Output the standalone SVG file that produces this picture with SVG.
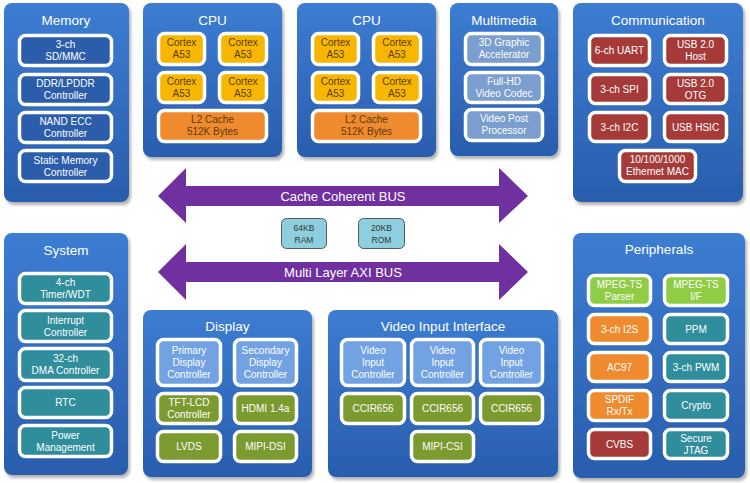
<svg xmlns="http://www.w3.org/2000/svg" width="750" height="483" viewBox="0 0 750 483">
<defs>
<linearGradient id="pg" x1="0" y1="0" x2="0" y2="1">
<stop offset="0" stop-color="#3c7dd2"/>
<stop offset="1" stop-color="#2a5dae"/>
</linearGradient>
<filter id="sh" x="-10%" y="-10%" width="125%" height="125%">
<feDropShadow dx="2" dy="3" stdDeviation="1.5" flood-color="#000" flood-opacity="0.3"/>
</filter>
</defs>
<style>
.panel{fill:url(#pg);filter:url(#sh)}
.b{stroke:#fff;stroke-width:3.5}
.mem{fill:#2c5dab}
.sys{fill:#2f8d9c}
.cor{fill:#f7b700}
.l2{fill:#f08a2e}
.mm{fill:#7a9ecd}
.red{fill:#a53a39}
.lb{fill:#72a2e2}
.grn{fill:#7b9a2f}
.lg{fill:#8fcd45}
.org{fill:#f08a2e}
.tl{fill:#2f8d9c}
text{font-family:"Liberation Sans",Arial,sans-serif;text-anchor:middle}
.t{font-size:13.5px;fill:#fff}
.x{font-size:10px;fill:#fff}
.xd{font-size:10px;fill:#5a3c08}
.bus{fill:#7030a0}
.bt{font-size:13px;fill:#fff}
.rr{fill:#8ecfdf;stroke:#505a60;stroke-width:1}
.rt{font-size:8.5px;fill:#333}
</style>

<g id="connectors">
<polygon class="bus" points="158,196 186,168 186,186 499,186 499,168 528,196 499,223 499,206 186,206 186,223"/>
<text class="bt" x="343" y="200.5">Cache Coherent BUS</text>
<polygon class="bus" points="158,272 186,244 186,262 499,262 499,244 528,272 499,300 499,282 186,282 186,300"/>
<text class="bt" x="343" y="276.5">Multi Layer AXI BUS</text>
</g>

<g id="ram">
<rect class="rr" x="281.5" y="218.5" width="45" height="30" rx="5"/>
<text class="rt" x="304" y="231">64KB</text>
<text class="rt" x="304" y="243">RAM</text>
</g>
<g id="rom">
<rect class="rr" x="358.5" y="218.5" width="46" height="30" rx="5"/>
<text class="rt" x="381.5" y="231">20KB</text>
<text class="rt" x="381.5" y="243">ROM</text>
</g>

<g id="memory">
<rect class="panel" x="4" y="3" width="125" height="199" rx="8"/>
<text class="t" x="66" y="24.5">Memory</text>
<rect class="b mem" x="19.5" y="35.5" width="92" height="30" rx="6"/>
<text class="x" x="65.5" y="48">3-ch</text><text class="x" x="65.5" y="60">SD/MMC</text>
<rect class="b mem" x="19.5" y="74.5" width="92" height="30" rx="6"/>
<text class="x" x="65.5" y="87">DDR/LPDDR</text><text class="x" x="65.5" y="99">Controller</text>
<rect class="b mem" x="19.5" y="112.5" width="92" height="30" rx="6"/>
<text class="x" x="65.5" y="125">NAND ECC</text><text class="x" x="65.5" y="137">Controller</text>
<rect class="b mem" x="19.5" y="150.5" width="92" height="31" rx="6"/>
<text class="x" x="65.5" y="163.5">Static Memory</text><text class="x" x="65.5" y="175.5">Controller</text>
</g>

<g id="cpu1">
<rect class="panel" x="143" y="3" width="139" height="154" rx="8"/>
<text class="t" x="212.5" y="24.5">CPU</text>
<rect class="b cor" x="158.5" y="33.5" width="46" height="31" rx="6"/>
<text class="xd" x="181.5" y="46">Cortex</text><text class="xd" x="181.5" y="58">A53</text>
<rect class="b cor" x="219.5" y="33.5" width="47" height="31" rx="6"/>
<text class="xd" x="243" y="46">Cortex</text><text class="xd" x="243" y="58">A53</text>
<rect class="b cor" x="158.5" y="72.5" width="46" height="30" rx="6"/>
<text class="xd" x="181.5" y="85">Cortex</text><text class="xd" x="181.5" y="97">A53</text>
<rect class="b cor" x="219.5" y="72.5" width="47" height="30" rx="6"/>
<text class="xd" x="243" y="85">Cortex</text><text class="xd" x="243" y="97">A53</text>
<rect class="b l2" x="158.5" y="110.5" width="108" height="31" rx="6"/>
<text class="xd" x="212.5" y="123">L2 Cache</text><text class="xd" x="212.5" y="135">512K Bytes</text>
</g>

<g id="cpu2">
<rect class="panel" x="297" y="3" width="139" height="154" rx="8"/>
<text class="t" x="366.5" y="24.5">CPU</text>
<rect class="b cor" x="312.5" y="33.5" width="46" height="31" rx="6"/>
<text class="xd" x="335.5" y="46">Cortex</text><text class="xd" x="335.5" y="58">A53</text>
<rect class="b cor" x="373.5" y="33.5" width="47" height="31" rx="6"/>
<text class="xd" x="397" y="46">Cortex</text><text class="xd" x="397" y="58">A53</text>
<rect class="b cor" x="312.5" y="72.5" width="46" height="30" rx="6"/>
<text class="xd" x="335.5" y="85">Cortex</text><text class="xd" x="335.5" y="97">A53</text>
<rect class="b cor" x="373.5" y="72.5" width="47" height="30" rx="6"/>
<text class="xd" x="397" y="85">Cortex</text><text class="xd" x="397" y="97">A53</text>
<rect class="b l2" x="312.5" y="110.5" width="108" height="31" rx="6"/>
<text class="xd" x="366.5" y="123">L2 Cache</text><text class="xd" x="366.5" y="135">512K Bytes</text>
</g>

<g id="multimedia">
<rect class="panel" x="450" y="3" width="108" height="153" rx="8"/>
<text class="t" x="504" y="24.5">Multimedia</text>
<rect class="b mm" x="465.5" y="33.5" width="77" height="31" rx="6"/>
<text class="x" x="504" y="46">3D Graphic</text><text class="x" x="504" y="58">Accelerator</text>
<rect class="b mm" x="465.5" y="72.5" width="77" height="30" rx="6"/>
<text class="x" x="504" y="85">Full-HD</text><text class="x" x="504" y="97">Video Codec</text>
<rect class="b mm" x="465.5" y="109.5" width="77" height="31" rx="6"/>
<text class="x" x="504" y="122">Video Post</text><text class="x" x="504" y="134">Processor</text>
</g>

<g id="communication">
<rect class="panel" x="573" y="3" width="170" height="199" rx="8"/>
<text class="t" x="658" y="24.5">Communication</text>
<rect class="b red" x="589.5" y="35.5" width="60" height="30" rx="6"/>
<text class="x" x="619.5" y="54">6-ch UART</text>
<rect class="b red" x="664.5" y="35.5" width="62" height="30" rx="6"/>
<text class="x" x="695.5" y="48">USB 2.0</text><text class="x" x="695.5" y="60">Host</text>
<rect class="b red" x="589.5" y="74.5" width="60" height="29" rx="6"/>
<text class="x" x="619.5" y="92.5">3-ch SPI</text>
<rect class="b red" x="664.5" y="74.5" width="62" height="29" rx="6"/>
<text class="x" x="695.5" y="86.5">USB 2.0</text><text class="x" x="695.5" y="98.5">OTG</text>
<rect class="b red" x="589.5" y="112.5" width="60" height="29" rx="6"/>
<text class="x" x="619.5" y="130.5">3-ch I2C</text>
<rect class="b red" x="664.5" y="112.5" width="62" height="29" rx="6"/>
<text class="x" x="695.5" y="130.5">USB HSIC</text>
<rect class="b red" x="619.5" y="150.5" width="76" height="31" rx="6"/>
<text class="x" x="657.5" y="163">10/100/1000</text><text class="x" x="657.5" y="175">Ethernet MAC</text>
</g>

<g id="system">
<rect class="panel" x="4" y="233" width="124" height="242" rx="8"/>
<text class="t" x="66" y="254.5">System</text>
<rect class="b sys" x="19.5" y="273.5" width="92" height="30" rx="6"/>
<text class="x" x="65.5" y="286">4-ch</text><text class="x" x="65.5" y="298">Timer/WDT</text>
<rect class="b sys" x="19.5" y="310.5" width="92" height="31" rx="6"/>
<text class="x" x="65.5" y="323.5">Interrupt</text><text class="x" x="65.5" y="335.5">Controller</text>
<rect class="b sys" x="19.5" y="348.5" width="92" height="32" rx="6"/>
<text class="x" x="65.5" y="362">32-ch</text><text class="x" x="65.5" y="374">DMA Controller</text>
<rect class="b sys" x="19.5" y="387.5" width="92" height="30" rx="6"/>
<text class="x" x="65.5" y="406">RTC</text>
<rect class="b sys" x="19.5" y="425.5" width="92" height="31" rx="6"/>
<text class="x" x="65.5" y="438.5">Power</text><text class="x" x="65.5" y="450.5">Management</text>
</g>

<g id="display">
<rect class="panel" x="143" y="310" width="169" height="167" rx="8"/>
<text class="t" x="227.5" y="331">Display</text>
<rect class="b lb" x="157.5" y="339.5" width="63" height="46" rx="6"/>
<text class="x" x="189" y="354">Primary</text><text class="x" x="189" y="366">Display</text><text class="x" x="189" y="378">Controller</text>
<rect class="b lb" x="234.5" y="339.5" width="62" height="46" rx="6"/>
<text class="x" x="265.5" y="354">Secondary</text><text class="x" x="265.5" y="366">Display</text><text class="x" x="265.5" y="378">Controller</text>
<rect class="b grn" x="157.5" y="393.5" width="63" height="30" rx="6"/>
<text class="x" x="189" y="406">TFT-LCD</text><text class="x" x="189" y="418">Controller</text>
<rect class="b grn" x="234.5" y="393.5" width="62" height="30" rx="6"/>
<text class="x" x="265.5" y="412">HDMI 1.4a</text>
<rect class="b grn" x="157.5" y="431.5" width="63" height="30" rx="6"/>
<text class="x" x="189" y="450">LVDS</text>
<rect class="b grn" x="234.5" y="431.5" width="62" height="30" rx="6"/>
<text class="x" x="265.5" y="450">MIPI-DSI</text>
</g>

<g id="video-input">
<rect class="panel" x="328" y="310" width="230" height="167" rx="8"/>
<text class="t" x="443" y="331">Video Input Interface</text>
<rect class="b lb" x="341.5" y="339.5" width="63" height="46" rx="6"/>
<text class="x" x="373" y="354">Video</text><text class="x" x="373" y="366">Input</text><text class="x" x="373" y="378">Controller</text>
<rect class="b lb" x="411.5" y="339.5" width="62" height="46" rx="6"/>
<text class="x" x="442.5" y="354">Video</text><text class="x" x="442.5" y="366">Input</text><text class="x" x="442.5" y="378">Controller</text>
<rect class="b lb" x="480.5" y="339.5" width="62" height="46" rx="6"/>
<text class="x" x="511.5" y="354">Video</text><text class="x" x="511.5" y="366">Input</text><text class="x" x="511.5" y="378">Controller</text>
<rect class="b grn" x="341.5" y="393.5" width="63" height="30" rx="6"/>
<text class="x" x="373" y="412">CCIR656</text>
<rect class="b grn" x="411.5" y="393.5" width="62" height="30" rx="6"/>
<text class="x" x="442.5" y="412">CCIR656</text>
<rect class="b grn" x="480.5" y="393.5" width="62" height="30" rx="6"/>
<text class="x" x="511.5" y="412">CCIR656</text>
<rect class="b grn" x="411.5" y="431.5" width="62" height="30" rx="6"/>
<text class="x" x="442.5" y="450">MIPI-CSI</text>
</g>

<g id="peripherals">
<rect class="panel" x="573" y="233" width="172" height="245" rx="8"/>
<text class="t" x="659" y="253.5">Peripherals</text>
<rect class="b lg" x="588.5" y="275.5" width="62" height="30" rx="6"/>
<text class="x" x="619.5" y="288">MPEG-TS</text><text class="x" x="619.5" y="300">Parser</text>
<rect class="b lg" x="664.5" y="275.5" width="63" height="30" rx="6"/>
<text class="x" x="696" y="288">MPEG-TS</text><text class="x" x="696" y="300">I/F</text>
<rect class="b org" x="588.5" y="314.5" width="62" height="29" rx="6"/>
<text class="x" x="619.5" y="332.5">3-ch I2S</text>
<rect class="b tl" x="664.5" y="314.5" width="63" height="29" rx="6"/>
<text class="x" x="696" y="332.5">PPM</text>
<rect class="b org" x="588.5" y="352.5" width="62" height="29" rx="6"/>
<text class="x" x="619.5" y="370.5">AC97</text>
<rect class="b tl" x="664.5" y="352.5" width="63" height="29" rx="6"/>
<text class="x" x="696" y="370.5">3-ch PWM</text>
<rect class="b org" x="588.5" y="390.5" width="62" height="30" rx="6"/>
<text class="x" x="619.5" y="403">SPDIF</text><text class="x" x="619.5" y="415">Rx/Tx</text>
<rect class="b tl" x="664.5" y="390.5" width="63" height="30" rx="6"/>
<text class="x" x="696" y="409">Crypto</text>
<rect class="b red" x="588.5" y="429.5" width="62" height="29" rx="6"/>
<text class="x" x="619.5" y="447.5">CVBS</text>
<rect class="b tl" x="664.5" y="429.5" width="63" height="29" rx="6"/>
<text class="x" x="696" y="441.5">Secure</text><text class="x" x="696" y="453.5">JTAG</text>
</g>
</svg>
